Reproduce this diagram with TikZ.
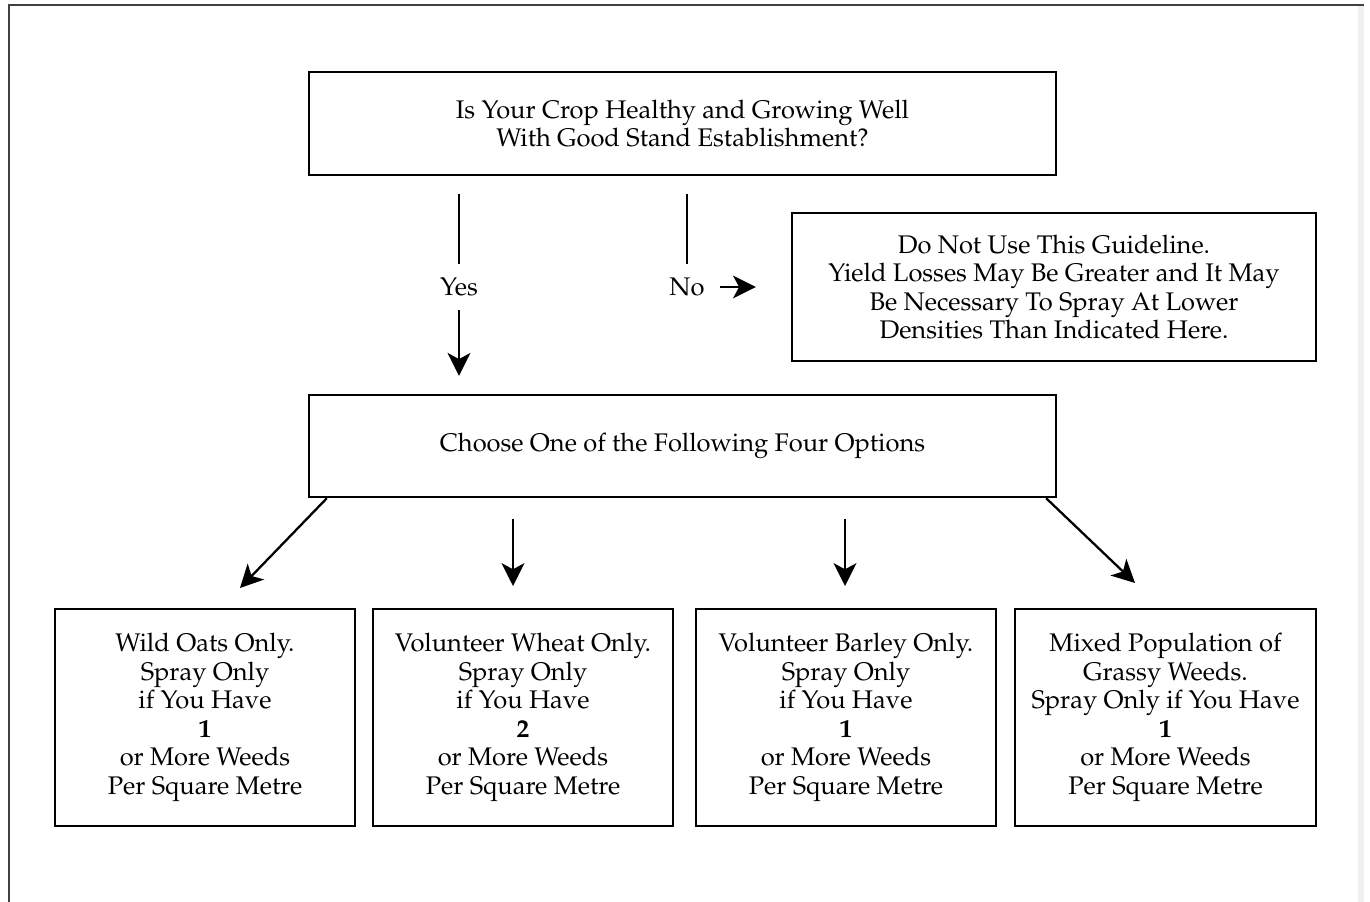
\documentclass[tikz,border=0pt]{standalone}
\usepackage[T1]{fontenc}
\usepackage{mathpazo}
\usetikzlibrary{arrows.meta}

\begin{document}
\begin{tikzpicture}[x=0.02cm,y=-0.02cm,
  box/.style={draw, line width=1.4pt, align=center, inner sep=0pt,
    font=\fontsize{14.5}{16.2}\selectfont},
  lbl/.style={font=\fontsize{14.5}{16.2}\selectfont},
  arr/.style={line width=1.3pt, -{Stealth[length=13pt,width=13pt,inset=3.5pt]}}]
\useasboundingbox (0,0) rectangle (1370,902);
\fill[gray!12] (1358,5) rectangle (1364,902);
\draw[line width=1.6pt, black!75] (1364,5) -- (9,5) -- (9,902);

\node[box, minimum width=14.94cm, minimum height=2.06cm] (health) at (682.5,123.5)
  {Is Your Crop Healthy and Growing Well\\With Good Stand Establishment?};
\node[box, minimum width=10.48cm, minimum height=2.96cm] (guide) at (1054,287)
  {Do Not Use This Guideline.\\Yield Losses May Be Greater and It May\\Be Necessary To Spray At Lower\\Densities Than Indicated Here.};
\node[box, minimum width=14.94cm, minimum height=2.04cm] (choose) at (682.5,446)
  {Choose One of the Following Four Options};

\node[box, minimum width=6cm, minimum height=4.34cm] (oats) at (205,717.5)
  {Wild Oats Only.\\Spray Only\\if You Have\\\textbf{1}\\or More Weeds\\Per Square Metre};
\node[box, minimum width=6cm, minimum height=4.34cm] (wheat) at (523,717.5)
  {Volunteer Wheat Only.\\Spray Only\\if You Have\\\textbf{2}\\or More Weeds\\Per Square Metre};
\node[box, minimum width=6cm, minimum height=4.34cm] (barley) at (846,717.5)
  {Volunteer Barley Only.\\Spray Only\\if You Have\\\textbf{1}\\or More Weeds\\Per Square Metre};
\node[box, minimum width=6.02cm, minimum height=4.34cm] (mixed) at (1165.5,717.5)
  {Mixed Population of\\Grassy Weeds.\\Spray Only if You Have\\\textbf{1}\\or More Weeds\\Per Square Metre};

% yes / no
\node[lbl] (yes) at (459,287) {Yes};
\node[lbl] (no) at (687,287) {No};
\path[draw,line width=1.3pt,shorten <=0.36cm,shorten >=0.16cm] (health.south -| yes) -- (yes);
\path[draw,arr,shorten <=0.16cm,shorten >=0.36cm] (yes) -- (yes |- choose.north);
\path[draw,line width=1.3pt,shorten <=0.36cm,shorten >=0.16cm] (health.south -| no) -- (no);
\path[draw,arr,shorten <=0.18cm,shorten >=0.7cm] (no) -- (guide.west |- no);

% four options
\coordinate (tipA) at (240,588);
\coordinate (tipB) at (513,586);
\coordinate (tipC) at (845,586);
\coordinate (tipD) at (1135,583);
\path[draw,arr] ([xshift=0.38cm]choose.south west) -- (tipA);
\path[draw,arr,shorten <=0.42cm] (tipB |- choose.south) -- (tipB);
\path[draw,arr,shorten <=0.42cm] (tipC |- choose.south) -- (tipC);
\path[draw,arr] ([xshift=-0.22cm]choose.south east) -- (tipD);
\end{tikzpicture}
\end{document}
